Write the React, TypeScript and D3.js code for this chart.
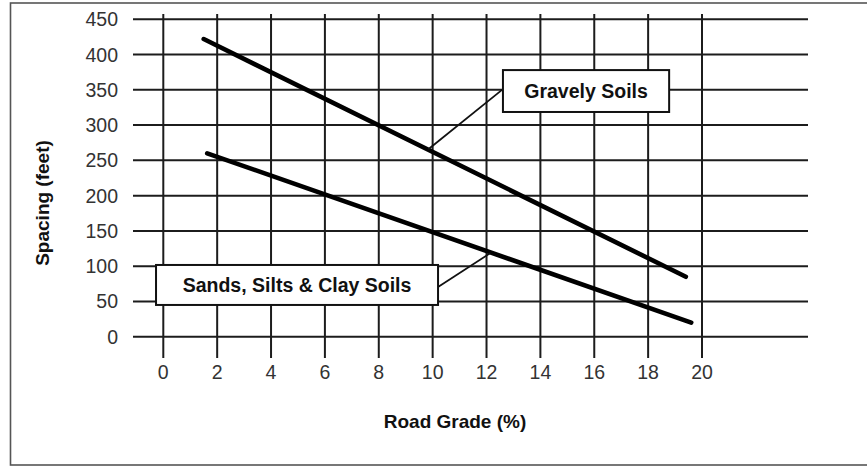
import React from "react";
import * as d3 from "d3";

// values
const xTicks = [0, 2, 4, 6, 8, 10, 12, 14, 16, 18, 20];
const yTicks = [0, 50, 100, 150, 200, 250, 300, 350, 400, 450];

const gravelyGrade = [1.5, 19.4];
const gravelySpacing = [422, 85];
const sandsGrade = [1.63, 19.6];
const sandsSpacing = [260, 20];

const labels = ["Gravely Soils", "Sands, Silts & Clay Soils"];
// label boxes in data units: [x0, x1, yTop, yBottom], leader from -> to
const labelBoxes = [
  [12.61, 18.78, 378, 318.6],
  [-0.27, 10.2, 101.7, 45],
];
const leaderFrom = [
  [12.61, 351],
  [10.2, 70.5],
];
const leaderTo = [
  [9.84, 265.7],
  [12.13, 118.2],
];

const W = 867;
const H = 468;

const App = () => {
  const x = d3.scaleLinear().domain([0, 20]).range([163.3, 702]);
  const y = d3.scaleLinear().domain([0, 450]).range([336.7, 19.3]);

  const line = d3
    .line<[number, number]>()
    .x((d) => x(d[0]))
    .y((d) => y(d[1]));

  const series = [
    d3.zip(gravelyGrade, gravelySpacing) as [number, number][],
    d3.zip(sandsGrade, sandsSpacing) as [number, number][],
  ];

  const font = "'Liberation Sans', Arial, Helvetica, sans-serif";
  const gridColor = "#1c1c1c";

  return (
    <svg
      width={W}
      height={H}
      style={{ position: "absolute", left: 0, top: 0, background: "#fff" }}
      fontFamily={font}
    >
      {/* outer frame */}
      <rect x={10.5} y={3} width={W + 10} height={462} fill="none" stroke="#555" strokeWidth={1.6} />

      {/* horizontal grid */}
      {yTicks.map((t) => (
        <line key={"h" + t} x1={133} x2={808} y1={y(t)} y2={y(t)} stroke={gridColor} strokeWidth={2} />
      ))}
      {/* vertical grid + ticks */}
      {xTicks.map((t) => (
        <line key={"v" + t} x1={x(t)} x2={x(t)} y1={14} y2={358} stroke={gridColor} strokeWidth={2} />
      ))}

      {/* y tick labels */}
      {yTicks.map((t) => (
        <text key={"yl" + t} x={118} y={y(t)} dy="0.36em" textAnchor="end" fontSize={19.5} fill="#333">
          {t}
        </text>
      ))}
      {/* x tick labels */}
      {xTicks.map((t) => (
        <text key={"xl" + t} x={x(t)} y={379} textAnchor="middle" fontSize={19.5} fill="#333">
          {t}
        </text>
      ))}

      {/* data lines */}
      {series.map((s, i) => (
        <path key={"s" + i} d={line(s) || ""} fill="none" stroke="#000" strokeWidth={4.6} strokeLinecap="round" />
      ))}

      {/* leaders */}
      {leaderFrom.map((f, i) => (
        <line
          key={"ld" + i}
          x1={x(f[0])}
          y1={y(f[1])}
          x2={x(leaderTo[i][0])}
          y2={y(leaderTo[i][1])}
          stroke="#111"
          strokeWidth={1.8}
        />
      ))}

      {/* label boxes */}
      {labelBoxes.map((b, i) => (
        <g key={"lb" + i}>
          <rect
            x={x(b[0])}
            y={y(b[2])}
            width={x(b[1]) - x(b[0])}
            height={y(b[3]) - y(b[2])}
            fill="#fff"
            stroke="#111"
            strokeWidth={2}
          />
          <text
            x={(x(b[0]) + x(b[1])) / 2}
            y={(y(b[2]) + y(b[3])) / 2}
            dy="0.36em"
            textAnchor="middle"
            fontSize={19.5}
            fontWeight="bold"
            fill="#111"
          >
            {labels[i]}
          </text>
        </g>
      ))}

      {/* axis titles */}
      <text x={455} y={428} textAnchor="middle" fontSize={19} fontWeight="bold" fill="#111">
        Road Grade (%)
      </text>
      <text
        transform="translate(49,203) rotate(-90)"
        textAnchor="middle"
        fontSize={19}
        fontWeight="bold"
        fill="#111"
      >
        Spacing (feet)
      </text>
    </svg>
  );
};

export default App;
